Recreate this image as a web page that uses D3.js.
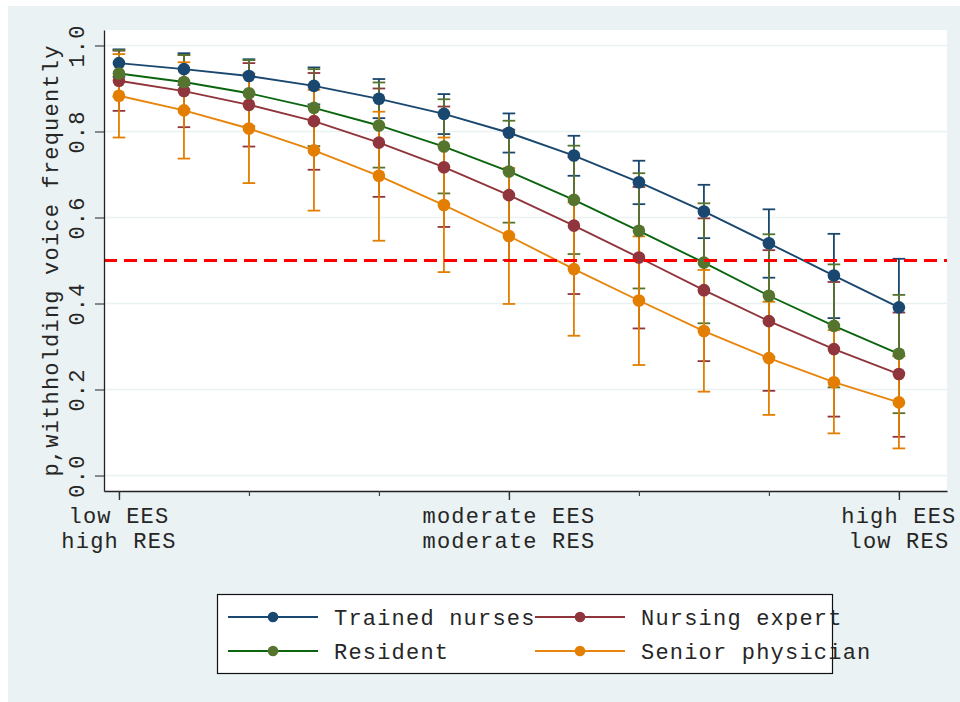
<!DOCTYPE html>
<html>
<head>
<meta charset="utf-8">
<script src="https://cdn.jsdelivr.net/npm/d3@7"></script>
<style>
  body { margin: 0; background: #fff; }
  text { font-family: "Liberation Mono", "DejaVu Sans Mono", monospace; fill: #262626; letter-spacing: 1.2px; }
</style>
</head>
<body>
<div id="chart"></div>
<script>
// ---- data ----
var xLevels = [0, 1, 2, 3, 4, 5, 6, 7, 8, 9, 10, 11, 12];
var xTicks = [0, 2, 4, 6, 8, 10, 12];
var xLabelPos = [0, 6, 12];
var xLabels = [["low EES", "high RES"], ["moderate EES", "moderate RES"], ["high EES", "low RES"]];
var yTicks = [0, 0.2, 0.4, 0.6, 0.8, 1.0];
var refLine = 0.5;
var yTitle = "p,withholding voice frequently";

var seriesNames = ["Trained nurses", "Nursing expert", "Resident", "Senior physician"];

var estTrained = [0.959, 0.945, 0.929, 0.906, 0.876, 0.841, 0.797, 0.744, 0.682, 0.614, 0.540, 0.465, 0.391];
var hiTrained  = [0.991, 0.982, 0.968, 0.949, 0.922, 0.887, 0.842, 0.790, 0.732, 0.676, 0.619, 0.562, 0.504];
var loTrained  = [0.927, 0.908, 0.890, 0.863, 0.831, 0.794, 0.751, 0.697, 0.631, 0.552, 0.460, 0.366, 0.278];

var estExpert = [0.918, 0.894, 0.862, 0.824, 0.774, 0.717, 0.652, 0.581, 0.507, 0.431, 0.359, 0.294, 0.236];
var hiExpert  = [0.988, 0.978, 0.959, 0.936, 0.900, 0.858, 0.804, 0.740, 0.671, 0.598, 0.524, 0.450, 0.379];
var loExpert  = [0.848, 0.810, 0.765, 0.711, 0.648, 0.578, 0.501, 0.422, 0.342, 0.266, 0.197, 0.137, 0.090];

var estResident = [0.935, 0.915, 0.889, 0.855, 0.814, 0.765, 0.707, 0.641, 0.569, 0.495, 0.418, 0.348, 0.283];
var hiResident  = [0.989, 0.978, 0.966, 0.945, 0.914, 0.875, 0.825, 0.767, 0.703, 0.633, 0.561, 0.491, 0.420];
var loResident  = [0.881, 0.852, 0.812, 0.766, 0.716, 0.656, 0.588, 0.515, 0.435, 0.354, 0.275, 0.205, 0.145];

var estSenior = [0.883, 0.849, 0.807, 0.756, 0.697, 0.629, 0.557, 0.480, 0.407, 0.336, 0.273, 0.217, 0.170];
var hiSenior  = [0.980, 0.961, 0.935, 0.897, 0.846, 0.786, 0.715, 0.635, 0.556, 0.478, 0.404, 0.338, 0.277];
var loSenior  = [0.786, 0.737, 0.680, 0.616, 0.546, 0.473, 0.399, 0.325, 0.257, 0.195, 0.141, 0.098, 0.063];

// ---- styling ----
var markerColors = ["#1a476f", "#90353b", "#55752f", "#e37e00"];
var lineColors = ["#1a476f", "#90353b", "#0b650f", "#e8850c"];

var series = [
  { name: seriesNames[0], est: estTrained, lo: loTrained, hi: hiTrained },
  { name: seriesNames[1], est: estExpert, lo: loExpert, hi: hiExpert },
  { name: seriesNames[2], est: estResident, lo: loResident, hi: hiResident },
  { name: seriesNames[3], est: estSenior, lo: loSenior, hi: hiSenior }
];
series.forEach(function (s, i) {
  s.mc = markerColors[i];
  s.lc = lineColors[i];
  s.points = xLevels.map(function (x, j) { return { x: x, y: s.est[j], lo: s.lo[j], hi: s.hi[j] }; });
});

var width = 960, height = 702;
var plotLeft = 104, plotRight = 947, plotTop = 30, plotBottom = 491;
var fontSize = 22;
var capHalf = 6.3;
var dotR = 6.3;

var x = d3.scaleLinear().domain([-0.23, 12.74]).range([plotLeft, plotRight]);
var y = d3.scaleLinear().domain([-0.036, 1.036]).range([plotBottom, plotTop]);

var svg = d3.select("#chart").append("svg").attr("width", width).attr("height", height);

// outer background and plot region
svg.append("rect").attr("x", 8).attr("y", 6).attr("width", width - 8).attr("height", height - 6)
  .attr("fill", "#eaf2f3");
svg.append("rect").attr("x", plotLeft).attr("y", plotTop)
  .attr("width", plotRight - plotLeft).attr("height", plotBottom - plotTop).attr("fill", "#fff");

// grid lines
svg.append("g").selectAll("line").data(yTicks).enter().append("line")
  .attr("x1", plotLeft).attr("x2", plotRight)
  .attr("y1", function (d) { return y(d); }).attr("y2", function (d) { return y(d); })
  .attr("stroke", "#eaf2f3").attr("stroke-width", 1.6);

// confidence intervals
var ciG = svg.append("g");
series.forEach(function (s) {
  var g = ciG.append("g").attr("stroke", s.mc).attr("stroke-width", 1.8);
  var p = g.selectAll("g").data(s.points).enter().append("g");
  p.append("line")
    .attr("x1", function (d) { return x(d.x); }).attr("x2", function (d) { return x(d.x); })
    .attr("y1", function (d) { return y(d.lo); }).attr("y2", function (d) { return y(d.hi); });
  p.append("line")
    .attr("x1", function (d) { return x(d.x) - capHalf; }).attr("x2", function (d) { return x(d.x) + capHalf; })
    .attr("y1", function (d) { return y(d.hi); }).attr("y2", function (d) { return y(d.hi); });
  p.append("line")
    .attr("x1", function (d) { return x(d.x) - capHalf; }).attr("x2", function (d) { return x(d.x) + capHalf; })
    .attr("y1", function (d) { return y(d.lo); }).attr("y2", function (d) { return y(d.lo); });
});

// lines and markers
var line = d3.line().x(function (d) { return x(d.x); }).y(function (d) { return y(d.y); });
series.forEach(function (s) {
  svg.append("path").datum(s.points)
    .attr("fill", "none").attr("stroke", s.lc).attr("stroke-width", 1.9)
    .attr("d", line);
  svg.append("g").selectAll("circle").data(s.points).enter().append("circle")
    .attr("cx", function (d) { return x(d.x); })
    .attr("cy", function (d) { return y(d.y); })
    .attr("r", dotR).attr("fill", s.mc);
});

// reference line
svg.append("line")
  .attr("x1", plotLeft).attr("x2", plotRight)
  .attr("y1", y(refLine)).attr("y2", y(refLine))
  .attr("stroke", "#ff0000").attr("stroke-width", 3)
  .attr("stroke-dasharray", "13,7");

// y axis
var yAxis = d3.axisLeft(y).tickValues(yTicks).tickSize(9).tickSizeOuter(0)
  .tickFormat(d3.format(".1f"));
var yG = svg.append("g").attr("transform", "translate(" + plotLeft + ",0)").call(yAxis);
yG.select(".domain").attr("stroke", "#222").attr("stroke-width", 1.3);
yG.selectAll(".tick line").attr("stroke", "#444").attr("stroke-width", 1.2);
yG.selectAll(".tick text")
  .attr("transform", "rotate(-90)")
  .attr("x", 0).attr("y", -20.5).attr("dy", 0)
  .attr("text-anchor", "middle")
  .style("font-size", fontSize + "px")
  .style("font-family", "Liberation Mono");

svg.append("text")
  .attr("transform", "translate(58," + ((plotTop + plotBottom) / 2) + ") rotate(-90)")
  .attr("text-anchor", "middle")
  .style("font-size", fontSize + "px")
  .text(yTitle);

// x axis
var xAxis = d3.axisBottom(x).tickValues(xTicks).tickSize(5).tickSizeOuter(0).tickFormat("");
var xG = svg.append("g").attr("transform", "translate(0," + plotBottom + ")").call(xAxis);
xG.select(".domain").attr("stroke", "#222").attr("stroke-width", 1.3);
xG.selectAll(".tick line").attr("stroke", "#444").attr("stroke-width", 1.2);

var xMajor = d3.axisBottom(x).tickValues(xLabelPos).tickSize(9).tickSizeOuter(0).tickFormat("");
var xMG = svg.append("g").attr("transform", "translate(0," + plotBottom + ")").call(xMajor);
xMG.select(".domain").remove();
xMG.selectAll(".tick line").attr("stroke", "#333").attr("stroke-width", 1.4);

var xl = svg.append("g").selectAll("text").data(xLabelPos).enter().append("text")
  .attr("text-anchor", "middle")
  .style("font-size", fontSize + "px");
xl.each(function (d, i) {
  var t = d3.select(this);
  xLabels[i].forEach(function (ln, k) {
    t.append("tspan").attr("x", x(d)).attr("y", 522.5 + k * 25.5).text(ln);
  });
});

// legend
var legBox = { x: 217.5, y: 594.5, w: 615, h: 79 };
svg.append("rect").attr("x", legBox.x).attr("y", legBox.y)
  .attr("width", legBox.w).attr("height", legBox.h)
  .attr("fill", "#fff").attr("stroke", "#111").attr("stroke-width", 1.2);

var legCols = [228, 535], legRows = [617, 651];
var leg = svg.append("g").selectAll("g").data(series).enter().append("g")
  .attr("transform", function (d, i) {
    return "translate(" + legCols[i % 2] + "," + legRows[Math.floor(i / 2)] + ")";
  });
leg.append("line").attr("x1", 0).attr("x2", 90).attr("y1", 0).attr("y2", 0)
  .attr("stroke", function (d) { return d.lc; }).attr("stroke-width", 1.9);
leg.append("circle").attr("cx", 45).attr("cy", 0).attr("r", 5.3)
  .attr("fill", function (d) { return d.mc; });
leg.append("text").attr("x", 106).attr("y", 8)
  .style("font-size", fontSize + "px")
  .text(function (d) { return d.name; });
</script>
</body>
</html>
